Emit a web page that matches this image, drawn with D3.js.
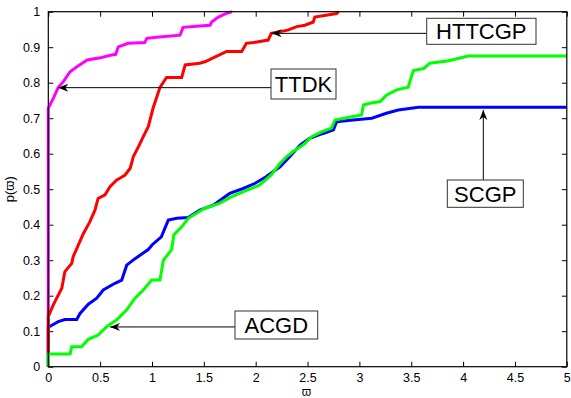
<!DOCTYPE html>
<html>
<head>
<meta charset="utf-8">
<script src="https://cdn.jsdelivr.net/npm/d3@7"></script>
<style>
  body { margin: 0; background: #fff; }
  svg { display: block; font-family: "Liberation Sans", Arial, sans-serif; }
</style>
</head>
<body>
<svg id="chart" width="571" height="398"></svg>
<script>
// series data: x = varpi, p = p(varpi)
const ttdkX = [0, 0, 0.02, 0.048, 0.07, 0.096, 0.145, 0.21, 0.29, 0.376, 0.5, 0.61, 0.65, 0.675, 0.77, 0.93, 0.95, 1.045, 1.27, 1.30, 1.46, 1.56, 1.575, 1.64, 1.70, 1.77];
const ttdkP = [0, 0.728, 0.74, 0.756, 0.77, 0.787, 0.803, 0.831, 0.848, 0.864, 0.87, 0.878, 0.88, 0.901, 0.911, 0.913, 0.925, 0.928, 0.934, 0.956, 0.96, 0.962, 0.971, 0.985, 0.993, 1.0];

const httcgpX = [0, 0, 0.02, 0.048, 0.13, 0.16, 0.226, 0.24, 0.29, 0.34, 0.40, 0.45, 0.48, 0.547, 0.595, 0.66, 0.69, 0.74, 0.79, 0.82, 0.87, 0.916, 0.964, 1.01, 1.077, 1.14, 1.286, 1.32, 1.46, 1.51, 1.62, 1.72, 1.865, 1.91, 1.98, 2.12, 2.15, 2.31, 2.395, 2.475, 2.555, 2.57, 2.78, 2.80];
const httcgpP = [0.036, 0.141, 0.155, 0.174, 0.221, 0.268, 0.291, 0.31, 0.343, 0.376, 0.408, 0.441, 0.474, 0.484, 0.507, 0.526, 0.531, 0.54, 0.559, 0.592, 0.62, 0.648, 0.676, 0.728, 0.787, 0.815, 0.815, 0.85, 0.855, 0.859, 0.874, 0.888, 0.888, 0.911, 0.913, 0.92, 0.939, 0.948, 0.958, 0.962, 0.971, 0.985, 0.995, 1.0];

const scgpX = [0, 0, 0.096, 0.16, 0.274, 0.306, 0.386, 0.467, 0.53, 0.643, 0.708, 0.756, 0.84, 0.964, 1.0, 1.09, 1.157, 1.24, 1.35, 1.46, 1.59, 1.75, 1.88, 1.99, 2.1, 2.235, 2.33, 2.43, 2.52, 2.65, 2.75, 2.78, 2.94, 3.12, 3.26, 3.375, 3.57, 5];
const scgpP = [0, 0.111, 0.127, 0.133, 0.133, 0.15, 0.176, 0.193, 0.216, 0.235, 0.244, 0.286, 0.305, 0.33, 0.343, 0.366, 0.413, 0.418, 0.42, 0.441, 0.455, 0.488, 0.502, 0.516, 0.535, 0.563, 0.592, 0.625, 0.643, 0.657, 0.667, 0.69, 0.695, 0.70, 0.714, 0.723, 0.731, 0.731];

const acgdX = [0, 0, 0.21, 0.226, 0.32, 0.386, 0.48, 0.563, 0.66, 0.756, 0.836, 0.916, 0.997, 1.077, 1.11, 1.19, 1.21, 1.286, 1.35, 1.5, 1.65, 1.77, 1.9, 2.04, 2.15, 2.235, 2.30, 2.36, 2.46, 2.54, 2.64, 2.73, 2.765, 2.925, 3.02, 3.04, 3.10, 3.2, 3.26, 3.36, 3.47, 3.52, 3.62, 3.68, 3.86, 4.05, 5];
const acgdP = [0, 0.036, 0.036, 0.056, 0.056, 0.077, 0.089, 0.113, 0.132, 0.16, 0.193, 0.216, 0.244, 0.244, 0.30, 0.33, 0.371, 0.394, 0.418, 0.445, 0.46, 0.479, 0.495, 0.512, 0.54, 0.573, 0.592, 0.606, 0.625, 0.648, 0.662, 0.672, 0.695, 0.704, 0.709, 0.737, 0.742, 0.747, 0.765, 0.78, 0.787, 0.834, 0.84, 0.855, 0.862, 0.875, 0.875];

const xTicks = [0, 0.5, 1, 1.5, 2, 2.5, 3, 3.5, 4, 4.5, 5];
const yTicks = [0, 0.1, 0.2, 0.3, 0.4, 0.5, 0.6, 0.7, 0.8, 0.9, 1];

// annotations: label and the point the arrow points at
const noteLabels = ["HTTCGP", "TTDK", "SCGP", "ACGD"];
const noteTipX = [2.154, 0.096, 4.195, 0.595];
const noteTipP = [0.939, 0.786, 0.723, 0.112];

const margin = {top: 11.7, right: 4.2, bottom: 31.3, left: 48.3};
const W = 571, H = 398;
const width = W - margin.left - margin.right;
const height = H - margin.top - margin.bottom;

const svg = d3.select("#chart");
const g = svg.append("g").attr("transform", "translate(" + margin.left + "," + margin.top + ")");

const x = d3.scaleLinear().domain([0, 5]).range([0, width]);
const y = d3.scaleLinear().domain([0, 1]).range([height, 0]);

// axes with inward ticks on all four sides
const fmt = d => d === 0 ? "0" : d3.format("~g")(d);
const axB = g.append("g").attr("transform", "translate(0," + height + ")")
  .call(d3.axisBottom(x).tickValues(xTicks).tickSizeInner(-5).tickSizeOuter(0).tickPadding(6).tickFormat(fmt));
const axL = g.append("g")
  .call(d3.axisLeft(y).tickValues(yTicks).tickSizeInner(-5).tickSizeOuter(0).tickPadding(8).tickFormat(fmt));
const axT = g.append("g")
  .call(d3.axisTop(x).tickValues(xTicks).tickSizeInner(-5).tickSizeOuter(0).tickFormat(""));
const axR = g.append("g").attr("transform", "translate(" + width + ",0)")
  .call(d3.axisRight(y).tickValues(yTicks).tickSizeInner(-5).tickSizeOuter(0).tickFormat(""));
[axB, axL, axT, axR].forEach(a => {
  a.select(".domain").remove();
  a.selectAll("line").attr("stroke", "#000");
  a.selectAll("text").attr("fill", "#000").style("font-size", "12.5px").style("font-family", "Liberation Sans, Arial, sans-serif");
});

// series lines
const line = d3.line().x(d => x(d[0])).y(d => y(d[1]));
const series = [
  {xs: scgpX, ps: scgpP, color: "#0000ff"},
  {xs: ttdkX, ps: ttdkP, color: "#ff00ff"},
  {xs: httcgpX, ps: httcgpP, color: "#ff0000"},
  {xs: acgdX, ps: acgdP, color: "#00ff00"}
];
series.forEach(s => {
  const pts = s.xs.map((v, i) => [v, s.ps[i]]);
  g.append("path").datum(pts)
    .attr("d", line)
    .attr("fill", "none")
    .attr("stroke", s.color)
    .attr("stroke-width", 3)
    .attr("stroke-linejoin", "miter");
});

// frame
g.append("rect").attr("x", 0).attr("y", 0).attr("width", width).attr("height", height)
  .attr("fill", "none").attr("stroke", "#000").attr("stroke-width", 1.2);

// axis titles
svg.append("text").attr("x", margin.left + width / 2 - 1).attr("y", 395.5)
  .attr("text-anchor", "middle").style("font-size", "12px").text("\u03d6");
svg.append("text").attr("transform", "translate(14," + (margin.top + height / 2) + ") rotate(-90)")
  .attr("text-anchor", "middle").style("font-size", "13px").text("p(\u03d6)");

// annotation boxes (pixel layout) and arrows
const boxes = [
  {x: 426.7, y: 18.3, w: 109.3, h: 26, side: "left"},
  {x: 271, y: 69, w: 65, h: 30, side: "left"},
  {x: 447.3, y: 180, w: 76, h: 27.3, side: "top"},
  {x: 235, y: 311, w: 82.7, h: 28, side: "left"}
];
const arrowHead = "M0,0 L-10,-4 L-7,0 L-10,4 Z";
noteLabels.forEach((lab, i) => {
  const b = boxes[i];
  const tx = margin.left + x(noteTipX[i]);
  const ty = margin.top + y(noteTipP[i]);
  let sx, sy;
  if (b.side === "left") { sx = b.x; sy = ty; } else { sx = tx; sy = b.y; }
  svg.append("line").attr("x1", sx).attr("y1", sy).attr("x2", tx).attr("y2", ty)
    .attr("stroke", "#000").attr("stroke-width", 1);
  const ang = Math.atan2(ty - sy, tx - sx) * 180 / Math.PI;
  svg.append("path").attr("d", arrowHead)
    .attr("transform", "translate(" + tx + "," + ty + ") rotate(" + ang + ")")
    .attr("fill", "#000");
  svg.append("rect").attr("x", b.x).attr("y", b.y).attr("width", b.w).attr("height", b.h)
    .attr("fill", "#fff").attr("stroke", "#333").attr("stroke-width", 1);
  svg.append("text").attr("x", b.x + b.w / 2).attr("y", b.y + b.h / 2 + 8)
    .attr("text-anchor", "middle").style("font-size", "22px").attr("fill", "#000").text(lab);
});
</script>
</body>
</html>
